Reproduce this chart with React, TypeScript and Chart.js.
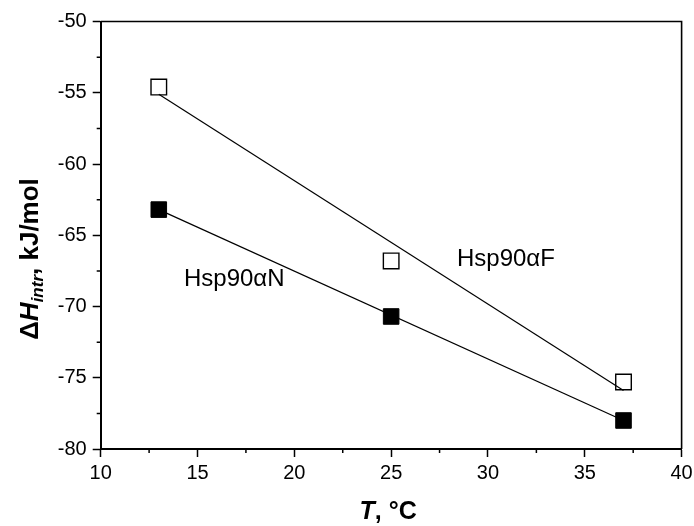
import React, { useEffect, useRef } from "react";
import { Chart, registerables } from "chart.js";

Chart.register(...registerables);

// Temperature (°C) and intrinsic binding enthalpy (kJ/mol)
const temps = [13, 25, 37];
const dHF = [-54.6, -66.8, -75.3];
const dHN = [-63.2, -70.7, -78.0];

// Linear fits, evaluated at the ends of the measured range
const fitT = [13, 37];
const fitF = [-55.1, -75.9];
const fitN = [-63.2, -78.0];

const xMin = 10;
const xMax = 40;
const xStep = 5;
const yMin = -80;
const yMax = -50;
const yStep = 5;

// In-plot labels: text, anchor temperature, anchor enthalpy (baseline)
const labelText = ["Hsp90αF", "Hsp90αN"];
const labelT = [28.4, 14.3];
const labelDH = [-67.15, -68.55];

const FONT = "'Liberation Sans', Arial, Helvetica, sans-serif";

const decorPlugin = {
  id: "decor",
  afterDraw(chart: any) {
    const { ctx, chartArea, scales } = chart;
    const xs = scales.x;
    const ys = scales.y;
    ctx.save();

    // top and right frame lines
    ctx.strokeStyle = "#000";
    ctx.lineWidth = 1.6;
    ctx.beginPath();
    ctx.moveTo(chartArea.left, chartArea.top);
    ctx.lineTo(chartArea.right, chartArea.top);
    ctx.lineTo(chartArea.right, chartArea.bottom);
    ctx.stroke();

    // minor ticks halfway between major ones
    ctx.lineWidth = 1.5;
    ctx.beginPath();
    for (let v = xMin + xStep / 2; v < xMax; v += xStep) {
      const px = xs.getPixelForValue(v);
      ctx.moveTo(px, chartArea.bottom);
      ctx.lineTo(px, chartArea.bottom + 4);
    }
    for (let v = yMin + yStep / 2; v < yMax; v += yStep) {
      const py = ys.getPixelForValue(v);
      ctx.moveTo(chartArea.left, py);
      ctx.lineTo(chartArea.left - 4, py);
    }
    ctx.stroke();

    // series labels
    ctx.fillStyle = "#000";
    ctx.font = `24px ${FONT}`;
    ctx.textAlign = "left";
    ctx.textBaseline = "alphabetic";
    labelText.forEach((t, i) => {
      ctx.fillText(t, xs.getPixelForValue(labelT[i]), ys.getPixelForValue(labelDH[i]));
    });

    // x-axis title: T, °C
    const xt = [
      { s: "T", f: `italic bold 25px ${FONT}` },
      { s: ", °C", f: `bold 25px ${FONT}` },
    ];
    let wx = 0;
    xt.forEach((p) => {
      ctx.font = p.f;
      wx += ctx.measureText(p.s).width;
    });
    let cx = (chartArea.left + chartArea.right) / 2 - wx / 2 - 3;
    const by = 519;
    xt.forEach((p) => {
      ctx.font = p.f;
      ctx.fillText(p.s, cx, by);
      cx += ctx.measureText(p.s).width;
    });

    // y-axis title: ΔH_intr, kJ/mol (rotated)
    const yt = [
      { s: "Δ", f: `bold 26px ${FONT}`, dy: 0 },
      { s: "H", f: `italic bold 26px ${FONT}`, dy: 0 },
      { s: "intr", f: `italic bold 17px ${FONT}`, dy: 5 },
      { s: ",", f: `bold 26px ${FONT}`, dy: 0 },
      { s: " kJ/mol", f: `bold 26px ${FONT}`, dy: 0 },
    ];
    let wy = 0;
    yt.forEach((p) => {
      ctx.font = p.f;
      wy += ctx.measureText(p.s).width;
    });
    ctx.translate(38, 259);
    ctx.rotate(-Math.PI / 2);
    let tx = -wy / 2;
    yt.forEach((p) => {
      ctx.font = p.f;
      ctx.fillText(p.s, tx, p.dy);
      tx += ctx.measureText(p.s).width;
    });

    ctx.restore();
  },
};

export default function App() {
  const canvasRef = useRef<HTMLCanvasElement | null>(null);

  useEffect(() => {
    if (!canvasRef.current) return;
    const chart = new Chart(canvasRef.current, {
      type: "scatter",
      data: {
        datasets: [
          {
            label: "Hsp90αF fit",
            data: fitT.map((t, i) => ({ x: t, y: fitF[i] })),
            showLine: true,
            borderColor: "#000",
            borderWidth: 1.2,
            pointRadius: 0,
            order: 2,
          },
          {
            label: "Hsp90αN fit",
            data: fitT.map((t, i) => ({ x: t, y: fitN[i] })),
            showLine: true,
            borderColor: "#000",
            borderWidth: 1.2,
            pointRadius: 0,
            order: 2,
          },
          {
            label: "Hsp90αF",
            data: temps.map((t, i) => ({ x: t, y: dHF[i] })),
            pointStyle: "rect",
            pointRadius: 11,
            backgroundColor: "rgba(255,255,255,0)",
            borderColor: "#000",
            borderWidth: 1.4,
            order: 1,
          },
          {
            label: "Hsp90αN",
            data: temps.map((t, i) => ({ x: t, y: dHN[i] })),
            pointStyle: "rect",
            pointRadius: 11,
            backgroundColor: "#000",
            borderColor: "#000",
            borderWidth: 1,
            order: 1,
          },
        ],
      },
      options: {
        animation: false,
        responsive: true,
        maintainAspectRatio: false,
        layout: { padding: { left: 0, top: 21.5, right: 11.3, bottom: 0 } },
        plugins: {
          legend: { display: false },
          tooltip: { enabled: false },
        },
        scales: {
          x: {
            type: "linear",
            min: xMin,
            max: xMax,
            ticks: {
              stepSize: xStep,
              color: "#000",
              padding: 4,
              font: { family: FONT, size: 20 },
            },
            grid: {
              display: true,
              drawOnChartArea: false,
              drawTicks: true,
              tickLength: 8,
              tickColor: "#000",
              tickWidth: 1.5,
            },
            border: { display: true, color: "#000", width: 2 },
            afterFit: (scale: any) => {
              scale.height = 77;
              scale.paddingLeft = 0;
              scale.paddingRight = 0;
            },
          },
          y: {
            type: "linear",
            min: yMin,
            max: yMax,
            ticks: {
              stepSize: yStep,
              color: "#000",
              padding: 6,
              font: { family: FONT, size: 20 },
            },
            grid: {
              display: true,
              drawOnChartArea: false,
              drawTicks: true,
              tickLength: 8,
              tickColor: "#000",
              tickWidth: 1.5,
            },
            border: { display: true, color: "#000", width: 2 },
            afterFit: (scale: any) => {
              scale.width = 100.7;
              scale.paddingTop = 0;
              scale.paddingBottom = 0;
            },
          },
        },
      },
      plugins: [decorPlugin],
    });
    return () => chart.destroy();
  }, []);

  return (
    <div
      style={{
        position: "absolute",
        left: 0,
        top: 0,
        width: 694,
        height: 526,
        background: "#fff",
      }}
    >
      <canvas ref={canvasRef} />
    </div>
  );
}
